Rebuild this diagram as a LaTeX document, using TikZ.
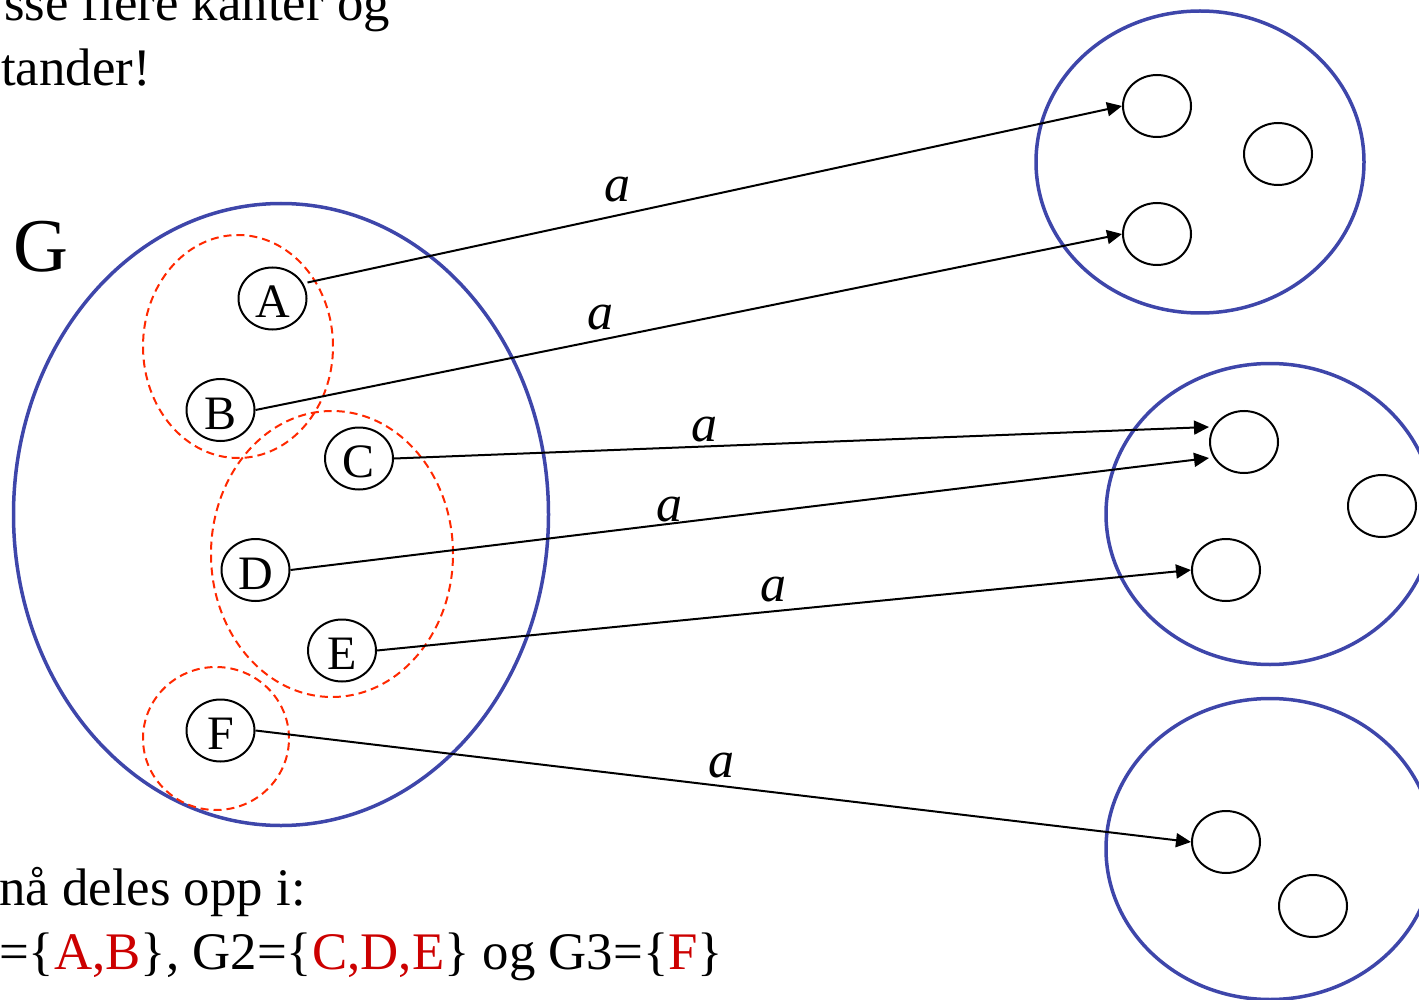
\documentclass[tikz,border=0pt]{standalone}
\usepackage{fontspec}
\setmainfont{Liberation Serif}
\usetikzlibrary{shapes.geometric,arrows.meta,calc}
\definecolor{gblue}{RGB}{62,70,170}
\definecolor{gred}{RGB}{255,40,0}
\definecolor{tred}{RGB}{204,0,0}
\begin{document}
\begin{tikzpicture}[x=1pt,y=-1pt,
  st/.style={draw=black,line width=2pt,ellipse,minimum width=68pt,minimum height=62pt,inner sep=0pt,text height=38pt,text depth=0pt,font=\fontsize{48}{58}\selectfont},
  grp/.style={draw=gblue,line width=3.5pt,ellipse,inner sep=0pt},
  part/.style={draw=gred,line width=2pt,dash pattern=on 8pt off 5pt,ellipse,inner sep=0pt},
  arr/.style={line width=2pt,-{Triangle[length=15pt,width=14pt]}},
  lab/.style={inner sep=0pt,font=\fontsize{52}{62}\selectfont\itshape},
  txt/.style={inner sep=0pt,font=\fontsize{52.8}{63}\selectfont}]
\clip (0,0) rectangle (1419,1000);
% big sets
\node[grp,minimum width=535pt,minimum height=622pt] (G) at (281,514.5) {};
\node[grp,minimum width=328pt,minimum height=302pt] (T) at (1200,162) {};
\node[grp,minimum width=328pt,minimum height=301pt] (M) at (1270,514) {};
\node[grp,minimum width=328pt,minimum height=301pt] (Bt) at (1270,849) {};
% partitions
\node[part,minimum width=190pt,minimum height=223pt] (P1) at (238,346.5) {};
\node[part,minimum width=242pt,minimum height=286pt] (P2) at (332,554) {};
\node[part,minimum width=146pt,minimum height=143pt] (P3) at (216,738.5) {};
% states of G
\node[st] (A) at (272.5,298.5) {A};
\node[st] (B) at (220.5,410) {B};
\node[st] (C) at (359,458.5) {C};
\node[st] (D) at (255.5,570) {D};
\node[st] (E) at (342,650.5) {E};
\node[st] (F) at (220.5,730.5) {F};
% target states
\node[st] (t1) at (1157,106) {};
\node[st] (t2) at (1278,154) {};
\node[st] (t3) at (1157,234) {};
\node[st] (m1) at (1244,442) {};
\node[st] (m2) at (1382,506) {};
\node[st] (m3) at (1226,570) {};
\node[st] (b1) at (1226,842) {};
\node[st] (b2) at (1313,906) {};
% arrows
\draw[arr] ($(A.east)+(0,-16)$) -- (t1.west);
\draw[arr] (B.east) -- (t3.west);
\draw[arr] (C.east) -- ($(m1.west)+(0,-15)$);
\draw[arr] (D.east) -- ($(m1.west)+(0,16)$);
\draw[arr] (E.east) -- (m3.west);
\draw[arr] (F.east) -- (b1.west);
% labels
\node[lab] (la1) at (617,190) {a};
\node[lab] (la2) at (600,318) {a};
\node[lab] (la3) at (704,430) {a};
\node[lab] (la4) at (669,510) {a};
\node[lab] (la5) at (773,590) {a};
\node[lab] (la6) at (721,766) {a};
% G label
\node[inner sep=0pt,font=\fontsize{76}{90}\selectfont] (Glab) at (41,247) {G};
% texts
\node[txt,anchor=base east] (tx1) at (390,21) {sse flere kanter og};
\node[txt,anchor=base west] (tx2) at (1,86) {tander!};
\node[txt,anchor=base west] (tx3) at (-1,905) {nå deles opp i:};
\node[txt,anchor=base west] (tx4) at (-1,969) {=\{\textcolor{tred}{A,B}\}, G2=\{\textcolor{tred}{C,D,E}\} og G3=\{\textcolor{tred}{F}\}};
\end{tikzpicture}
\end{document}
